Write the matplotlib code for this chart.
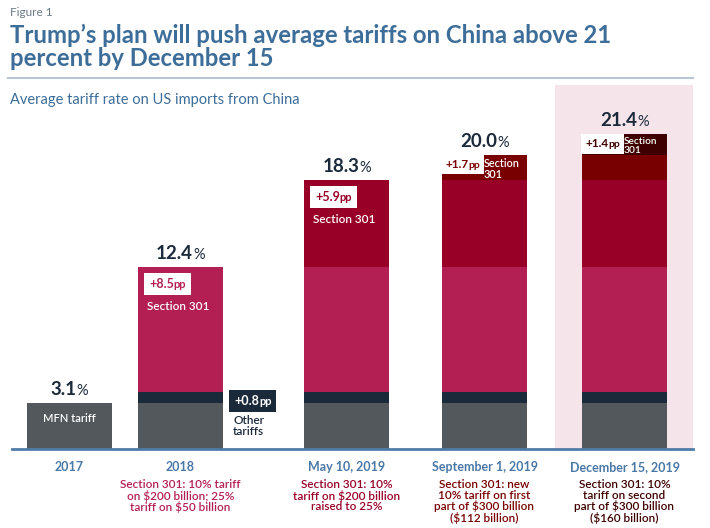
import matplotlib
matplotlib.use("Agg")
import matplotlib.pyplot as plt
import numpy as np
from matplotlib.offsetbox import TextArea, HPacker, AnnotationBbox

plt.rcParams["font.family"] = ["Lato", "DejaVu Sans"]

# --- data (percentage points) ---
periods = ["2017", "2018", "May 10, 2019", "September 1, 2019", "December 15, 2019"]
mfn = [3.1, 3.1, 3.1, 3.1, 3.1]
other = [0, 0.8, 0.8, 0.8, 0.8]
s301_2018 = [0, 8.5, 8.5, 8.5, 8.5]
s301_may = [0, 0, 5.9, 5.9, 5.9]
s301_sep = [0, 0, 0, 1.7, 1.7]
s301_dec = [0, 0, 0, 0, 1.4]
totals = [3.1, 12.4, 18.3, 20.0, 21.4]
notes = ["",
         "Section 301: 10% tariff\non $200 billion; 25%\ntariff on $50 billion",
         "Section 301: 10%\ntariff on $200 billion\nraised to 25%",
         "Section 301: new\n10% tariff on first\npart of $300 billion\n($112 billion)",
         "Section 301: 10%\ntariff on second\npart of $300 billion\n($160 billion)"]
step_labels = ["+8.5", "+5.9", "+1.7", "+1.4"]

# --- style / layout ---
GRAY = "#53585C"
NAVY = "#1B2A3A"
C18 = "#B31F53"
CMAY = "#990028"
CSEP = "#780000"
CDEC = "#3E0000"
PINK = "#F6E4EB"
TITLE = "#3D6D99"
AXBLUE = "#4A78A6"
note_colors = [C18, C18, CMAY, CSEP, CDEC]

xpos = [69.5, 180.5, 346.5, 484.5, 624.5]   # bar centres (px units)
W = 85

fig = plt.figure(figsize=(7.1, 5.28), dpi=100)
fig.patch.set_facecolor("white")
ax = fig.add_axes([0, 79 / 528, 1, 367.5 / 528])
ax.set_xlim(0, 710)
ax.set_ylim(0, 25)
ax.axis("off")

ax.axvspan(555, 693, ymin=0, ymax=0.99, color=PINK, lw=0, zorder=0)

bottom = np.zeros(5)
for seg, col in [(mfn, GRAY), (other, NAVY), (s301_2018, C18),
                 (s301_may, CMAY), (s301_sep, CSEP), (s301_dec, CDEC)]:
    ax.bar(xpos, seg, width=W, bottom=bottom, color=col, lw=0, zorder=2)
    bottom += np.array(seg)

ax.axhline(0, xmin=12 / 710, xmax=693 / 710, color="#4F7BA8", lw=2, zorder=3, clip_on=False)


def boxed(x, y, num, txtcol, boxcol, dx, dy, size=9, pad=0.35):
    pack = HPacker(children=[
        TextArea(num, textprops=dict(color=txtcol, fontsize=size, fontweight="bold")),
        TextArea("pp", textprops=dict(color=txtcol, fontsize=size - 1, fontweight="bold"))],
        align="baseline", pad=0, sep=0)
    ab = AnnotationBbox(pack, (x, y), xybox=(dx, dy), boxcoords="offset pixels",
                        box_alignment=(0, 1), frameon=True, pad=pad,
                        bboxprops=dict(fc=boxcol, ec="none"), zorder=5)
    ax.add_artist(ab)


# total labels
for x, t in zip(xpos, totals):
    pack = HPacker(children=[
        TextArea(f"{t:.1f}", textprops=dict(color=NAVY, fontsize=13.5, fontweight="bold")),
        TextArea("%", textprops=dict(color=NAVY, fontsize=10.5))],
        align="baseline", pad=0, sep=0)
    ab = AnnotationBbox(pack, (x, t), xybox=(0, 5), boxcoords="offset pixels",
                        box_alignment=(0.5, 0), frameon=False)
    ax.add_artist(ab)

# MFN label
ax.annotate("MFN tariff", (xpos[0], mfn[0]), xytext=(0, -15), textcoords="offset pixels",
            ha="center", va="center", color="white", fontsize=8, fontweight="semibold")

# other tariffs
boxed(xpos[1] + W / 2, other[1] + mfn[1], "+0.8", "white", NAVY, 11, -3)
ax.annotate("Other\ntariffs", (xpos[1] + W / 2, 0), xytext=(10, 34), textcoords="offset pixels",
            ha="left", va="top", color=NAVY, fontsize=8.5, linespacing=1.0, fontweight="semibold")

# section 301 labels (wide ones)
for i, col in [(1, C18), (2, CMAY)]:
    boxed(xpos[i] - W / 2, totals[i], step_labels[i - 1], col, "white", 11, -11)
    ax.annotate("Section 301", (xpos[i] - W / 2, totals[i]), xytext=(9, -40),
                textcoords="offset pixels", ha="left", va="center", color="white",
                fontsize=8.5, fontweight="semibold")

# narrow ones
for i, col, fs in [(3, CSEP, 7.8), (4, CDEC, 7.3)]:
    boxed(xpos[i] - W / 2, totals[i], step_labels[i - 1], col, "white", 3, -4, size=8.5, pad=0.3)
    ax.annotate("Section\n301", (xpos[i] - W / 2, totals[i]), xytext=(42, -3),
                textcoords="offset pixels", ha="left", va="top", color="white",
                fontsize=fs, linespacing=0.95, fontweight="semibold")

# x labels and notes
for x, p, n, c in zip(xpos, periods, notes, note_colors):
    ax.annotate(p, (x, 0), xytext=(0, -18), textcoords="offset pixels", ha="center",
                va="center", color=AXBLUE, fontsize=9, fontweight="bold", annotation_clip=False)
    if n:
        ax.annotate(n, (x, 0), xytext=(0, -30), textcoords="offset pixels", ha="center",
                    va="top", color=c, fontsize=8.5, linespacing=0.95, fontweight="semibold",
                    annotation_clip=False)

# headings
fig.text(10 / 710, 1 - 12 / 528, "Figure 1", color="#6A7A8A", fontsize=8.5, va="center")
fig.text(10 / 710, 1 - 35 / 528, "Trump\u2019s plan will push average tariffs on China above 21",
         color=TITLE, fontsize=17.2, fontweight="bold", va="center")
fig.text(10 / 710, 1 - 58 / 528, "percent by December 15",
         color=TITLE, fontsize=17.2, fontweight="bold", va="center")
fig.add_artist(plt.Line2D([8 / 710, 693 / 710], [1 - 78 / 528] * 2, color="#B8C6D3", lw=1.5))
fig.text(10 / 710, 1 - 100 / 528, "Average tariff rate on US imports from China",
         color=TITLE, fontsize=10.5, va="center")

fig.savefig("out.png", dpi=100)
